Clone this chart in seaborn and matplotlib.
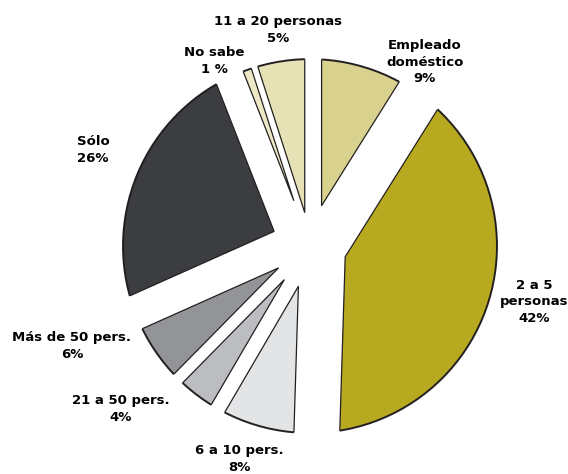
import numpy as np
import matplotlib
matplotlib.use("Agg")
import matplotlib.pyplot as plt
from matplotlib.patches import Circle
import seaborn as sns

# Household / workplace size categories and their shares (%)
categories = ["Empleado\ndoméstico", "2 a 5\npersonas", "6 a 10 pers.",
              "21 a 50 pers.", "Más de 50 pers.", "Sólo", "No sabe", "11 a 20 personas"]
percent_labels = ["9%", "42%", "8%", "4%", "6%", "26%", "1 %", "5%"]
shares = [9, 42, 8, 4, 6, 26, 1, 5]

colors = ["#d9d28f", "#b8aa20", "#e3e4e6", "#bcbdc0", "#939497",
          "#3c3d40", "#ede9c6", "#e7e2b6"]

# Gap (in pie radii) cut from each side of every slice
gaps = [0.062, 0.19, 0.055, 0.028, 0.038, 0.15, 0.008, 0.028]
# Label anchors (in pie radii, pie centred at the origin)
label_pos = [(0.615, 0.984), (1.198, -0.299), (-0.380, -1.139), (-1.011, -0.872),
             (-1.273, -0.535), (-1.160, 0.513), (-0.513, 0.989), (-0.171, 1.155)]

sns.set_theme(style="white")
plt.rcParams["font.family"] = ["DejaVu Sans"]

EDGE = "#231f20"
fig = plt.figure(figsize=(5.68, 4.74), dpi=100)
ax = fig.add_axes([0, 0, 1, 1])

wedges, _ = ax.pie(shares, colors=colors, startangle=90, counterclock=False,
                   radius=1.0, center=(0, 0), frame=False,
                   wedgeprops=dict(edgecolor=EDGE, linewidth=0.9))
ax.set_xlim(-1.658, 1.380)
ax.set_ylim(-1.219, 1.316)
ax.set_aspect("equal")
ax.axis("off")

for w, g in zip(wedges, gaps):
    t1, t2 = np.radians(w.theta1), np.radians(w.theta2)
    half = (t2 - t1) / 2
    mid = (t1 + t2) / 2
    # move the apex along the bisector so both straight sides shift inward by g
    d = g / np.sin(half)
    w.set_center((d * np.cos(mid), d * np.sin(mid)))
    w.set_radius(2.2)
    disk = Circle((0, 0), 1.0, transform=ax.transData)
    w.set_clip_on(True)
    w.set_clip_path(disk)
    # outer arc outline, kept inside the slice
    rim = Circle((0, 0), 1.0, facecolor="none", edgecolor=EDGE, linewidth=1.4,
                 transform=ax.transData, zorder=w.get_zorder() + 0.1)
    ax.add_patch(rim)
    rim.set_clip_on(True)
    rim.set_clip_path(w)

for name, pct, (x, y) in zip(categories, percent_labels, label_pos):
    ax.text(x, y, f"{name}\n{pct}", ha="center", va="center", fontsize=9.5,
            fontweight="heavy", color="#000000", linespacing=1.35)

fig.savefig("out.png", dpi=100)
